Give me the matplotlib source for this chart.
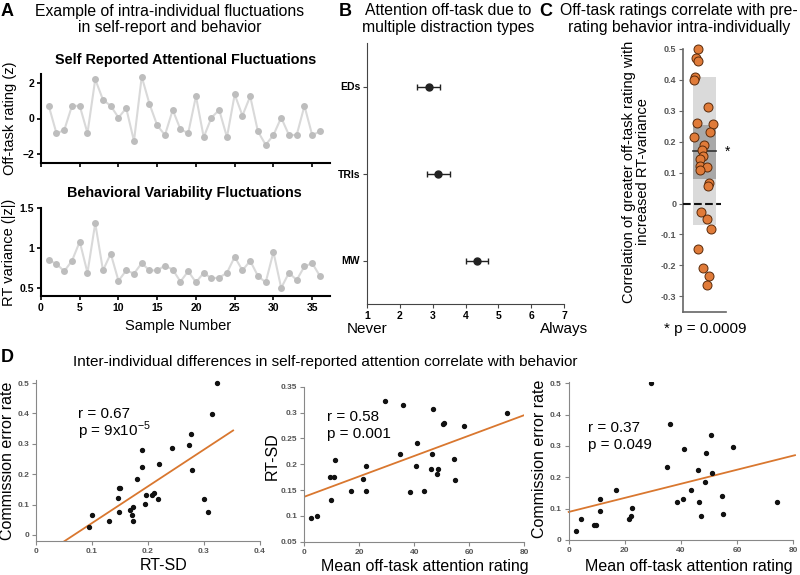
import numpy as np
import matplotlib.pyplot as plt

plt.rcParams['font.family'] = ['Liberation Sans', 'DejaVu Sans']

W, H = 800, 575

# panel A: one participant, 36 probes
sample_num = np.arange(1, 37)
offtask_z = [0.71, -0.84, -0.65, 0.71, 0.71, -0.82, 2.2, 1.05, 0.71, 0.05,
             0.58, -1.27, 2.35, 0.82, -0.39, -0.93, 0.48, -0.61, -0.82, 1.25,
             -1.05, 0.05, 0.48, -1.05, 1.35, 0.16, 1.25, -0.73, -1.48, -0.93,
             0.05, -0.93, -0.93, 0.71, -0.93, -0.73]
rt_var_z = [0.85, 0.80, 0.71, 0.84, 1.08, 0.69, 1.31, 0.72, 0.93, 0.59,
            0.72, 0.68, 0.81, 0.72, 0.72, 0.78, 0.73, 0.58, 0.71, 0.57,
            0.69, 0.62, 0.63, 0.69, 0.89, 0.72, 0.84, 0.65, 0.57, 0.95,
            0.50, 0.69, 0.60, 0.77, 0.81, 0.65]

# panel B
distraction_types = ['MW', 'TRIs', 'EDs']
distraction_mean = [4.35, 3.17, 2.88]
distraction_err = [0.34, 0.35, 0.35]

# panel C: per-subject correlations
corr_vals = [0.5, 0.47, 0.461, 0.411, 0.399, 0.311, 0.262, 0.256, 0.232, 0.215,
             0.189, 0.172, 0.154, 0.143, 0.121, 0.117, 0.109, 0.067, 0.056, -0.026,
             -0.049, -0.084, -0.147, -0.207, -0.235, -0.265]
corr_jitter = [0.34, 0.29, 0.34, 0.28, 0.26, 0.59, 0.32, 0.71, 0.63, 0.26,
               0.48, 0.43, 0.46, 0.40, 0.39, 0.57, 0.39, 0.61, 0.59, 0.42,
               0.57, 0.65, 0.34, 0.46, 0.61, 0.56]
corr_mean = 0.169
corr_ci = (0.08, 0.255)
corr_sd = (-0.07, 0.408)

# panel D
d1_rtsd = [0.323, 0.314, 0.276, 0.274, 0.242, 0.190, 0.190, 0.220, 0.279, 0.180,
           0.148, 0.150, 0.146, 0.196, 0.210, 0.208, 0.218, 0.300, 0.195, 0.174,
           0.168, 0.149, 0.307, 0.171, 0.100, 0.130, 0.174, 0.095]
d1_comm = [0.5, 0.399, 0.332, 0.295, 0.286, 0.279, 0.222, 0.232, 0.213, 0.185,
           0.156, 0.156, 0.120, 0.130, 0.137, 0.130, 0.119, 0.119, 0.102, 0.093,
           0.082, 0.074, 0.074, 0.066, 0.066, 0.047, 0.047, 0.027]
d1_fit = (1.21, -0.082)

d2_off = [29.3, 35.9, 46.7, 73.8, 50.5, 50.9, 58.2, 40.8, 34.9, 46.3,
          11.3, 54.4, 22.4, 40.6, 45.9, 48.6, 48.2, 9.2, 10.9, 21.2,
          54.8, 16.8, 22.3, 38.3, 43.5, 9.7, 4.6, 2.5]
d2_rtsd = [0.323, 0.315, 0.307, 0.300, 0.277, 0.280, 0.274, 0.242, 0.220, 0.219,
           0.209, 0.210, 0.196, 0.196, 0.191, 0.191, 0.181, 0.175, 0.175, 0.172,
           0.169, 0.148, 0.149, 0.147, 0.149, 0.131, 0.100, 0.096]
d2_fit = (0.001975, 0.137)

d3_off = [29.3, 36.0, 50.6, 58.4, 40.9, 48.9, 35.0, 45.9, 51.0, 48.5,
          16.7, 43.7, 11.0, 54.6, 40.7, 38.6, 46.5, 74.2, 22.6, 11.0,
          55.1, 47.0, 22.3, 21.5, 4.5, 9.0, 9.9, 2.6]
d3_comm = [0.502, 0.371, 0.335, 0.297, 0.289, 0.279, 0.234, 0.223, 0.213, 0.185,
           0.159, 0.159, 0.132, 0.140, 0.132, 0.121, 0.121, 0.121, 0.103, 0.094,
           0.083, 0.075, 0.075, 0.066, 0.066, 0.047, 0.047, 0.028]
d3_fit = (0.002246, 0.0895)

orange = '#d9772f'


def box(x0, y0, x1, y1):
    return [x0 / W, 1 - y1 / H, (x1 - x0) / W, (y1 - y0) / H]


def ftext(x, y, s, **kw):
    fig.text(x / W, 1 - y / H, s, **kw)


fig = plt.figure(figsize=(8, 5.75), dpi=100)

# ---------------- A
ax_a1 = fig.add_axes(box(41, 74, 330, 163))
ax_a2 = fig.add_axes(box(41, 208, 330, 296))
for ax, vals in [(ax_a1, offtask_z), (ax_a2, rt_var_z)]:
    ax.plot(sample_num, vals, '-', color='#d9d9d9', lw=1.5, zorder=1)
    ax.plot(sample_num, vals, 'o', color='#bdbdbd', ms=5, mec='none', zorder=2)
    ax.spines[['top', 'right']].set_visible(False)
    for s in ['left', 'bottom']:
        ax.spines[s].set_linewidth(1.5)
    ax.set_xlim(0, 37.3)
    ax.set_xticks(range(0, 36, 5))
    ax.tick_params(direction='out', length=3, width=1.2, labelsize=7.5, pad=2)
    for lab in ax.get_yticklabels() + ax.get_xticklabels():
        lab.set_fontweight('bold')
ax_a1.set_ylim(-2.5, 2.5)
ax_a1.set_yticks([-2, 0, 2])
ax_a1.set_yticklabels(['\u22122', '0', '2'], fontweight='bold')
ax_a1.set_xticklabels([])
ax_a2.set_ylim(0.4, 1.5)
ax_a2.set_yticks([0.5, 1, 1.5])
ax_a2.set_yticklabels(['0.5', '1', '1.5'], fontweight='bold')

ftext(7, 12, 'A', fontsize=13, fontweight='bold', ha='center', va='center')
ftext(170, 19.5, 'Example of intra-individual fluctuations\nin self-report and behavior',
      fontsize=11.3, ha='center', va='center', linespacing=1.15)
ftext(186, 60, 'Self Reported Attentional Fluctuations', fontsize=10.4,
      fontweight='bold', ha='center', va='center')
ftext(184, 193, 'Behavioral Variability Fluctuations', fontsize=10.4,
      fontweight='bold', ha='center', va='center')
ftext(10, 118, 'Off-task rating (z)', fontsize=10.5, rotation=90, ha='center', va='center')
ftext(9, 252, 'RT variance (|z|)', fontsize=10.5, rotation=90, ha='center', va='center')
ftext(178, 326, 'Sample Number', fontsize=10.5, ha='center', va='center')

# ---------------- B
ax_b = fig.add_axes(box(367, 43, 564, 304))
ypos = np.arange(1, len(distraction_types) + 1)
ax_b.errorbar(distraction_mean, ypos, xerr=distraction_err, fmt='o', color='#222222',
              ms=5, capsize=2, elinewidth=1, capthick=1)
ax_b.set_xlim(1, 7)
ax_b.set_ylim(0.5, 3.5)
ax_b.set_yticks(ypos)
ax_b.set_yticklabels(distraction_types, fontweight='bold')
ax_b.set_xticks(range(1, 8))
ax_b.set_xticklabels([str(i) for i in range(1, 8)], fontweight='bold')
ax_b.spines[['top', 'right']].set_visible(False)
for s in ['left', 'bottom']:
    ax_b.spines[s].set_color('#444444')
ax_b.tick_params(direction='out', length=3, labelsize=7.5, pad=2, color='#444444')
ftext(345, 11, 'B', fontsize=13, fontweight='bold', ha='center', va='center')
ftext(448, 19, 'Attention off-task due to\nmultiple distraction types',
      fontsize=11.3, ha='center', va='center', linespacing=1.15)
ftext(367, 329, 'Never', fontsize=11, ha='center', va='center')
ftext(564, 329, 'Always', fontsize=11, ha='center', va='center')

# ---------------- C
ax_c = fig.add_axes(box(683.3, 49, 725.7, 311.7))
ax_c.set_xlim(0, 1)
ax_c.set_ylim(-0.35, 0.5)
ax_c.add_patch(plt.Rectangle((0.24, corr_sd[0]), 0.52, corr_sd[1] - corr_sd[0],
                             color='#dadada', lw=0, zorder=1))
ax_c.add_patch(plt.Rectangle((0.24, corr_ci[0]), 0.52, corr_ci[1] - corr_ci[0],
                             color='#a8a8a8', lw=0, zorder=2))
ax_c.plot([0.24, 0.76], [corr_mean, corr_mean], color='#333333', lw=1.2, zorder=3)
ax_c.plot([0, 0.9], [0, 0], '--', color='#111111', lw=1.5, zorder=3)
ax_c.scatter(corr_jitter, corr_vals, s=42, color='#e07b39', edgecolor='#5a2a0a',
             linewidth=0.7, zorder=4, clip_on=False)
ax_c.text(1.05, corr_mean, '*', fontsize=10, ha='center', va='center',
          transform=ax_c.transData)
ax_c.set_xticks([])
yt = [0.5, 0.4, 0.3, 0.2, 0.1, 0, -0.1, -0.2, -0.3]
ax_c.set_yticks(yt)
ax_c.set_yticklabels(['0' if v == 0 else f'{v:.1f}' for v in yt],
                     fontweight='bold', color='#555555')
ax_c.spines[['top', 'right']].set_visible(False)
for s in ['left', 'bottom']:
    ax_c.spines[s].set_color('#666666')
    ax_c.spines[s].set_linewidth(1.2)
ax_c.tick_params(axis='y', direction='out', length=3, labelsize=6.5, pad=2, color='#666666')
ftext(546, 11, 'C', fontsize=13, fontweight='bold', ha='center', va='center')
ftext(679, 19, 'Off-task ratings correlate with pre-\nrating behavior intra-individually',
      fontsize=11.3, ha='center', va='center', linespacing=1.15)
ftext(636, 172, 'Correlation of greater off-task rating with\nincreased RT-variance',
      fontsize=10.5, rotation=90, ha='center', va='center', linespacing=1.05)
ftext(705, 329, '* p = 0.0009', fontsize=11, ha='center', va='center')

# ---------------- D
ftext(7, 357, 'D', fontsize=13, fontweight='bold', ha='center', va='center')
ftext(325, 362, 'Inter-individual differences in self-reported attention correlate with behavior',
      fontsize=11, ha='center', va='center')

ax_d1 = fig.add_axes(box(36, 380, 260, 540.7))
ax_d2 = fig.add_axes(box(304.3, 386.7, 524.3, 541.7))
ax_d3 = fig.add_axes(box(568.7, 381.7, 793.3, 540))

ax_d1.scatter(d1_rtsd, d1_comm, s=8, color='#111111', zorder=3)
xx = np.array([0.0, 0.352])
ax_d1.plot(xx, d1_fit[0] * xx + d1_fit[1], color=orange, lw=1.3)
ax_d1.set_xlim(0, 0.4)
ax_d1.set_ylim(-0.019, 0.51)
ax_d1.set_xticks([0, 0.1, 0.2, 0.3, 0.4])
ax_d1.set_xticklabels(['0', '0.1', '0.2', '0.3', '0.4'])
ax_d1.set_yticks([0, 0.1, 0.2, 0.3, 0.4, 0.5])
ax_d1.set_yticklabels(['0', '0.1', '0.2', '0.3', '0.4', '0.5'])

ax_d2.scatter(d2_off, d2_rtsd, s=8, color='#111111', zorder=3)
xx = np.array([0.0, 80.0])
ax_d2.plot(xx, d2_fit[0] * xx + d2_fit[1], color=orange, lw=1.3)
ax_d2.set_xlim(0, 80)
ax_d2.set_ylim(0.05, 0.35)
ax_d2.set_xticks([0, 20, 40, 60, 80])
ax_d2.set_yticks([0.05, 0.1, 0.15, 0.2, 0.25, 0.3, 0.35])
ax_d2.set_yticklabels(['0.05', '0.1', '0.15', '0.2', '0.25', '0.3', '0.35'])

ax_d3.scatter(d3_off, d3_comm, s=8, color='#111111', zorder=3)
xx = np.array([0.0, 80.6])
ax_d3.plot(xx, d3_fit[0] * xx + d3_fit[1], color=orange, lw=1.3, clip_on=False)
ax_d3.set_xlim(0, 80)
ax_d3.set_ylim(0, 0.505)
ax_d3.set_xticks([0, 20, 40, 60, 80])
ax_d3.set_yticks([0, 0.1, 0.2, 0.3, 0.4, 0.5])
ax_d3.set_yticklabels(['0', '0.1', '0.2', '0.3', '0.4', '0.5'])

for ax in [ax_d1, ax_d2, ax_d3]:
    ax.spines[['top', 'right']].set_visible(False)
    for s in ['left', 'bottom']:
        ax.spines[s].set_color('#888888')
    ax.tick_params(direction='out', length=3, labelsize=6, pad=2, color='#888888',
                   labelcolor='#555555')
    for lab in ax.get_yticklabels() + ax.get_xticklabels():
        lab.set_fontweight('bold')

ftext(78, 414, 'r = 0.67', fontsize=11, ha='left', va='center')
ftext(78, 431, 'p = 9x10$^{\\mathregular{-5}}$', fontsize=11, ha='left', va='center')
ftext(327, 417, 'r = 0.58', fontsize=11, ha='left', va='center')
ftext(327, 434, 'p = 0.001', fontsize=11, ha='left', va='center')
ftext(588, 428, 'r = 0.37', fontsize=11, ha='left', va='center')
ftext(588, 445, 'p = 0.049', fontsize=11, ha='left', va='center')

ftext(8, 461, 'Commission error rate', fontsize=11.5, rotation=90, ha='center', va='center')
ftext(272, 456, 'RT-SD', fontsize=11.5, rotation=90, ha='center', va='center')
ftext(539, 459, 'Commission error rate', fontsize=11.5, rotation=90, ha='center', va='center')
ftext(164, 566, 'RT-SD', fontsize=11.5, ha='center', va='center')
ftext(425, 566, 'Mean off-task attention rating', fontsize=11.5, ha='center', va='center')
ftext(689, 566, 'Mean off-task attention rating', fontsize=11.5, ha='center', va='center')

fig.savefig('out.png', dpi=100)
